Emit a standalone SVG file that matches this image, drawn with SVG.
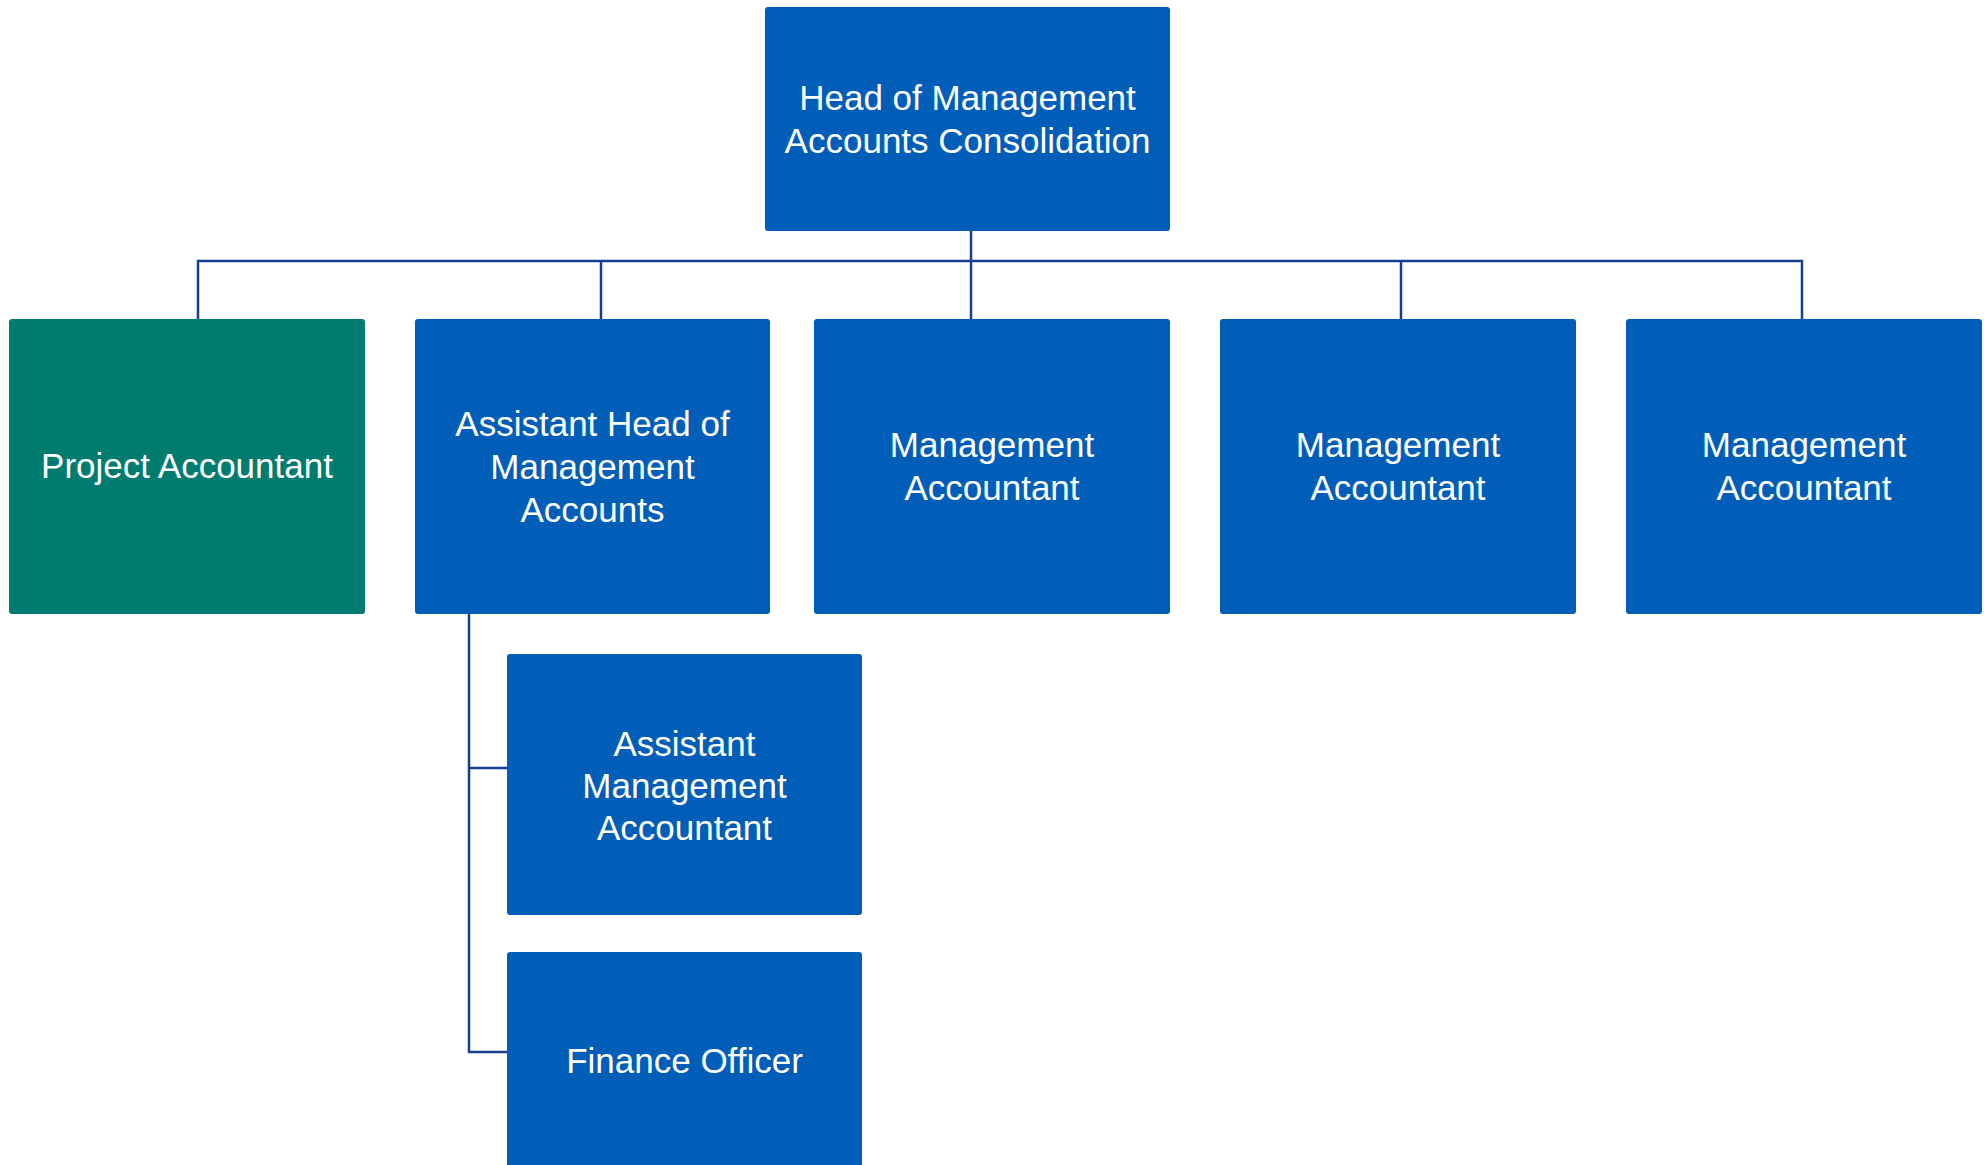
<svg xmlns="http://www.w3.org/2000/svg" width="1984" height="1165" viewBox="0 0 1984 1165">
<style>
.box{fill:#005EB8;}
.teal{fill:#007B70;}
.lbl{font-family:"Liberation Sans",Arial,sans-serif;font-size:35px;fill:#ffffff;text-anchor:middle;}
.con{stroke:#1A3E8F;stroke-width:2.5;fill:none;}
</style>
<rect width="1984" height="1165" fill="#ffffff"/>
<g id="connectors">
<path class="con" d="M971,231 V319"/>
<path class="con" d="M198,319 V261 H1802 V319"/>
<path class="con" d="M601,261 V319"/>
<path class="con" d="M1401,261 V319"/>
<path class="con" d="M469,614 V1052 H507"/>
<path class="con" d="M469,768 H507"/>
</g>
<g id="head">
<rect class="box" x="765" y="7" width="405" height="224" rx="3"/>
<text class="lbl" x="967.5" y="110">Head of Management</text>
<text class="lbl" x="967.5" y="153">Accounts Consolidation</text>
</g>
<g id="project-accountant">
<rect class="teal" x="9" y="319" width="356" height="295" rx="3"/>
<text class="lbl" x="187" y="478">Project Accountant</text>
</g>
<g id="assistant-head">
<rect class="box" x="415" y="319" width="355" height="295" rx="3"/>
<text class="lbl" x="592.5" y="436">Assistant Head of</text>
<text class="lbl" x="592.5" y="479">Management</text>
<text class="lbl" x="592.5" y="522">Accounts</text>
</g>
<g id="management-accountant-1">
<rect class="box" x="814" y="319" width="356" height="295" rx="3"/>
<text class="lbl" x="992" y="457">Management</text>
<text class="lbl" x="992" y="500">Accountant</text>
</g>
<g id="management-accountant-2">
<rect class="box" x="1220" y="319" width="356" height="295" rx="3"/>
<text class="lbl" x="1398" y="457">Management</text>
<text class="lbl" x="1398" y="500">Accountant</text>
</g>
<g id="management-accountant-3">
<rect class="box" x="1626" y="319" width="356" height="295" rx="3"/>
<text class="lbl" x="1804" y="457">Management</text>
<text class="lbl" x="1804" y="500">Accountant</text>
</g>
<g id="assistant-management-accountant">
<rect class="box" x="507" y="654" width="355" height="261" rx="3"/>
<text class="lbl" x="684.5" y="756">Assistant</text>
<text class="lbl" x="684.5" y="798">Management</text>
<text class="lbl" x="684.5" y="840">Accountant</text>
</g>
<g id="finance-officer">
<rect class="box" x="507" y="952" width="355" height="230" rx="3"/>
<text class="lbl" x="684.5" y="1073">Finance Officer</text>
</g>
</svg>
